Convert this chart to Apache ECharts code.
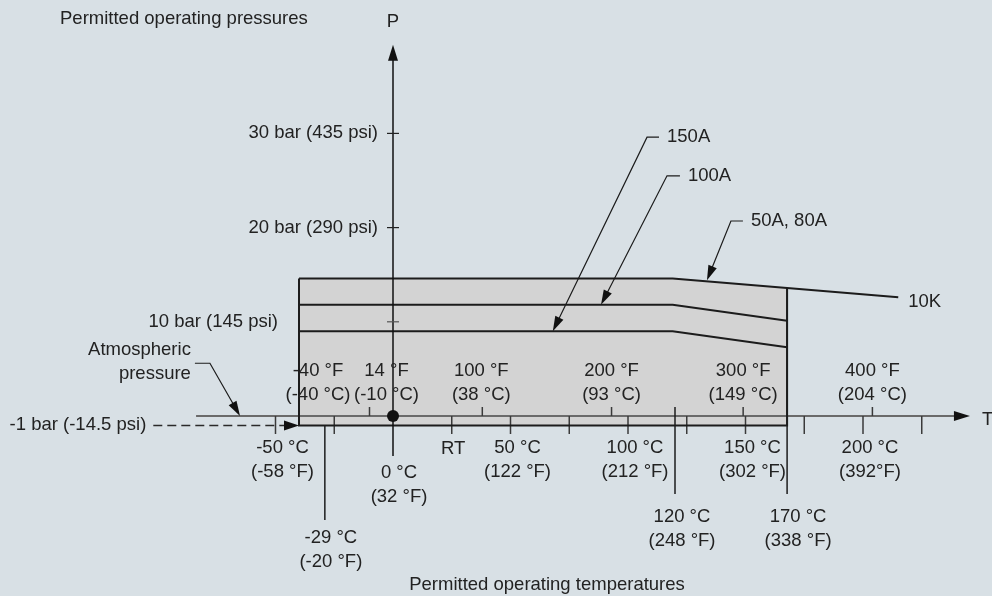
<!DOCTYPE html>
<html><head><meta charset="utf-8">
<script src="https://cdn.jsdelivr.net/npm/echarts@6/dist/echarts.min.js"></script>
<style>html,body{margin:0;padding:0;background:#d8e0e5}#c{width:992px;height:596px}</style>
</head><body><div id="c"></div>
<script>
// ---------- data ----------
const celsiusTicks = [-50, -25, 25, 50, 75, 100, 125, 150, 175, 200, 225];
const celsiusLabelTemps = [-50, 50, 100, 150, 200];
const celsiusLabels = ['-50 °C\n(-58 °F)', '50 °C\n(122 °F)', '100 °C\n(212 °F)', '150 °C\n(302 °F)', '200 °C\n(392°F)'];
const roomTemp = [25];
const roomTempLabel = ['RT'];
const zeroTemp = [0];
const zeroLabel = ['0 °C\n(32 °F)'];
const fahrenheitTemps = [-40, -10, 38, 93, 149, 204];
const fahrenheitLabels = ['-40 °F\n(-40 °C)', '14 °F\n(-10 °C)', '100 °F\n(38 °C)', '200 °F\n(93 °C)', '300 °F\n(149 °C)', '400 °F\n(204 °C)'];
const pressureTicks = [10, 20, 30];
const pressureLabels = ['10 bar (145 psi)', '20 bar (290 psi)', '30 bar (435 psi)'];
const limitTemps = [-29, 120, 167.7];
const limitLabels = ['-29 °C\n(-20 °F)', '120 °C\n(248 °F)', '170 °C\n(338 °F)'];
const curve10K = [[-40, 14.6], [119, 14.6], [167.7, 13.6], [215, 12.6]];
const curve100A = [[-40, 11.8], [119, 11.8], [167.7, 10.1]];
const curve150A = [[-40, 9.0], [119, 9.0], [167.7, 7.3]];
const curveNames = ['150A', '100A', '50A, 80A', '10K'];
const minTemp = -40, maxTemp = 167.7, vacuumPressure = -1, atmPressure = 0;
const pressureAxisRange = [-4.25, 39.4];
const tempAxisRange = [-83.8, 245.5];
const vacuumLineStart = -102;
// leader annotations (data coordinates): tip, elbow, end
const leaders = [
  {text: curveNames[0], pts: [[68, 9.0], [108.1, 29.6], [113.2, 29.6]]},
  {text: curveNames[1], pts: [[88.5, 11.8], [116.6, 25.5], [122.1, 25.5]]},
  {text: curveNames[2], pts: [[133.6, 14.4], [143.8, 20.7], [148.9, 20.7]]}
];
const atmLeader = [[-65.1, 0], [-77.9, 5.6], [-84.3, 5.6]];

// ---------- styles ----------
const FAMILY = '"Liberation Sans", Arial, sans-serif';
const FONT = '18.5px ' + FAMILY;
const INK = '#222';
const LINE = '#1c1c1c';
function txt(x, y, text, align, vAlign) {
  return {type: 'text', x: x, y: y, style: {text: text, fill: INK, font: FONT, align: align || 'center', verticalAlign: vAlign || 'middle', lineHeight: 24}};
}
function seg(p1, p2, stroke, w, dash) {
  return {type: 'line', shape: {x1: p1[0], y1: p1[1], x2: p2[0], y2: p2[1]}, style: {stroke: stroke, lineWidth: w, lineDash: dash || null}};
}
function poly(points, stroke, w) {
  return {type: 'polyline', shape: {points: points}, style: {stroke: stroke, lineWidth: w, fill: null, lineJoin: 'miter'}};
}
function arrowHead(tip, from, len, half, fill) {
  const dx = tip[0] - from[0], dy = tip[1] - from[1];
  const d = Math.hypot(dx, dy), ux = dx / d, uy = dy / d;
  const bx = tip[0] - ux * len, by = tip[1] - uy * len;
  return {type: 'polygon', shape: {points: [tip, [bx - uy * half, by + ux * half], [bx + uy * half, by - ux * half]]}, style: {fill: fill || '#111'}};
}
function base(ptA, ptB, len) { // point len px back from B toward A
  const dx = ptB[0] - ptA[0], dy = ptB[1] - ptA[1], d = Math.hypot(dx, dy);
  return [ptB[0] - dx / d * len, ptB[1] - dy / d * len];
}

function custom(name, data, render, z) {
  return {name: name, type: 'custom', coordinateSystem: 'cartesian2d', data: data, silent: true, z: z || 2,
    renderItem: render};
}

const boxPolygon = [[minTemp, vacuumPressure]].concat(curve10K.slice(0, 3)).concat([[maxTemp, vacuumPressure]]);

const series = [
  // permitted area
  custom('area', [[0, 0]], function (p, api) {
    return {type: 'polygon', shape: {points: boxPolygon.map(function (q) { return api.coord(q); })}, style: {fill: '#d3d3d3'}};
  }, 1),
  // atmospheric T axis
  custom('Taxis', [[0, 0]], function (p, api) {
    const a = api.coord([tempAxisRange[0], atmPressure]), b = api.coord([tempAxisRange[1], atmPressure]);
    return {type: 'group', children: [seg(a, base(a, b, 12), '#6a6a6a', 2), arrowHead(b, a, 16, 5)]};
  }, 3),
  // celsius ticks
  custom('cticks', celsiusTicks.map(function (t) { return [t, atmPressure]; }), function (p, api) {
    const c = api.coord([api.value(0), api.value(1)]);
    return seg([c[0], c[1]], [c[0], c[1] + 18], '#3a3a3a', 1.5);
  }, 3),
  // fahrenheit ticks
  custom('fticks', fahrenheitTemps.map(function (t) { return [t, atmPressure]; }), function (p, api) {
    const c = api.coord([api.value(0), api.value(1)]);
    return seg([c[0], c[1] - 9], [c[0], c[1]], '#3a3a3a', 1.5);
  }, 3),
  // vacuum dashed line
  custom('vacuum', [[0, 0]], function (p, api) {
    const a = api.coord([vacuumLineStart, vacuumPressure]), b = api.coord([minTemp, vacuumPressure]);
    return {type: 'group', children: [seg(a, base(a, b, 10), '#2a2a2a', 1.5, [9, 5]), arrowHead(b, a, 15, 5)]};
  }, 3),
  // limit temperature lines
  custom('limits', limitTemps.map(function (t) { return [t, 0]; }), function (p, api) {
    const t = api.value(0);
    const top = [api.coord([t, vacuumPressure])[1], api.coord([t, atmPressure])[1] - 9, api.coord([t, curve10K[2][1]])[1]][p.dataIndex];
    const bottom = api.coord([t, atmPressure])[1] + [104, 78, 78][p.dataIndex];
    const x = api.coord([t, 0])[0];
    return seg([x, top], [x, bottom], LINE, 1.5);
  }, 4),
  // box outline
  custom('box', [[0, 0]], function (p, api) {
    const pts = [[minTemp, curve10K[0][1]], [minTemp, vacuumPressure], [maxTemp, vacuumPressure], [maxTemp, curve10K[2][1]]];
    return poly(pts.map(function (q) { return api.coord(q); }), LINE, 2);
  }, 5),
  // pressure curves
  custom('curves', [[0, 0], [1, 0], [2, 0]], function (p, api) {
    const c = [curve10K, curve100A, curve150A][p.dataIndex];
    return poly(c.map(function (q) { return api.coord(q); }), LINE, 2);
  }, 5),
  // P axis
  custom('Paxis', [[0, 0]], function (p, api) {
    const a = api.coord([0, pressureAxisRange[0]]), b = api.coord([0, pressureAxisRange[1]]);
    return {type: 'group', children: [seg(a, base(a, b, 12), '#111', 1.5), arrowHead(b, a, 16, 5)]};
  }, 6),
  // P ticks
  custom('pticks', pressureTicks.map(function (v) { return [0, v]; }), function (p, api) {
    const c = api.coord([0, api.value(1)]);
    return seg([c[0] - 6, c[1]], [c[0] + 6, c[1]], p.dataIndex === 0 ? '#555' : '#222', 1.2);
  }, 6),
  // origin dot
  custom('dot', [[0, atmPressure]], function (p, api) {
    const c = api.coord([api.value(0), api.value(1)]);
    return {type: 'circle', shape: {cx: c[0], cy: c[1], r: 6}, style: {fill: '#111'}};
  }, 7),
  // leaders
  custom('leaders', leaders.map(function (l, i) { return [i, 0]; }), function (p, api) {
    const l = leaders[p.dataIndex];
    const px = l.pts.map(function (q) { return api.coord(q); });
    const tip = px[0], el = px[1], end = px[2];
    return {type: 'group', children: [
      poly([base(el, tip, 12), el, end], LINE, 1.2),
      arrowHead(tip, el, 15, 4.5),
      txt(end[0] + 8, end[1], l.text, 'left')
    ]};
  }, 7),
  custom('atmLeader', [[0, 0]], function (p, api) {
    const px = atmLeader.map(function (q) { return api.coord(q); });
    const tip = px[0], el = px[1], st = px[2];
    return {type: 'group', children: [
      poly([st, el, base(el, tip, 12)], LINE, 1.2),
      arrowHead(tip, el, 15, 4.5),
      txt(st[0] - 4, st[1] - 1, 'Atmospheric\npressure', 'right')
    ]};
  }, 7),
  // F labels
  custom('flabels', fahrenheitTemps.map(function (t) { return [t, atmPressure]; }), function (p, api) {
    const c = api.coord([api.value(0), api.value(1)]);
    const dx = [19, 17, -1, 0, 0, 0][p.dataIndex];
    return txt(c[0] + dx, c[1] - 57, fahrenheitLabels[p.dataIndex], 'center', 'top');
  }, 8),
  // C labels
  custom('clabels', celsiusLabelTemps.map(function (t) { return [t, atmPressure]; }), function (p, api) {
    const c = api.coord([api.value(0), api.value(1)]);
    return txt(c[0] + 7, c[1] + 20, celsiusLabels[p.dataIndex], 'center', 'top');
  }, 8),
  custom('rt', roomTemp.map(function (t) { return [t, atmPressure]; }), function (p, api) {
    const c = api.coord([api.value(0), api.value(1)]);
    return txt(c[0] + 1.5, c[1] + 21, roomTempLabel[p.dataIndex], 'center', 'top');
  }, 8),
  custom('zero', zeroTemp.map(function (t) { return [t, atmPressure]; }), function (p, api) {
    const c = api.coord([api.value(0), api.value(1)]);
    return txt(c[0] + 6, c[1] + 45, zeroLabel[p.dataIndex], 'center', 'top');
  }, 8),
  custom('limitLabels', limitTemps.map(function (t) { return [t, atmPressure]; }), function (p, api) {
    const c = api.coord([api.value(0), api.value(1)]);
    const dx = [6, 7, 11][p.dataIndex], dy = [110, 89, 89][p.dataIndex];
    return txt(c[0] + dx, c[1] + dy, limitLabels[p.dataIndex], 'center', 'top');
  }, 8),
  // P labels
  custom('plabels', pressureTicks.map(function (v) { return [0, v]; }), function (p, api) {
    const c = api.coord([0, api.value(1)]);
    const dx = [-115, -15, -15][p.dataIndex];
    return txt(c[0] + dx, c[1], pressureLabels[p.dataIndex], 'right');
  }, 8),
  custom('vlabel', [[vacuumLineStart, vacuumPressure]], function (p, api) {
    const c = api.coord([api.value(0), api.value(1)]);
    return txt(c[0] - 7, c[1] - 1, '-1 bar (-14.5 psi)', 'right');
  }, 8),
  // axis names
  custom('names', [[0, pressureAxisRange[1]], [tempAxisRange[1], atmPressure]], function (p, api) {
    const c = api.coord([api.value(0), api.value(1)]);
    return p.dataIndex === 0 ? txt(c[0], c[1] - 23, 'P', 'center') : txt(c[0] + 12, c[1] + 4, 'T', 'left');
  }, 8),
  // 10K end label
  custom('k10', [curve10K[3]], function (p, api) {
    const c = api.coord([api.value(0), api.value(1)]);
    return txt(c[0] + 10, c[1] + 5, curveNames[3], 'left');
  }, 8)
];

const chart = echarts.init(document.getElementById('c'));
chart.setOption({
  backgroundColor: '#d8e0e5',
  animation: false,
  title: [
    {text: 'Permitted operating pressures', left: 55, top: 4, textStyle: {fontFamily: FAMILY, fontSize: 18.5, fontWeight: 'normal', color: INK}},
    {text: 'Permitted operating temperatures', left: 542, top: 570, textAlign: 'center', textStyle: {fontFamily: FAMILY, fontSize: 18.5, fontWeight: 'normal', color: INK}}
  ],
  grid: {left: 17, right: 35, top: 39.2, bottom: 132.9},
  xAxis: {type: 'value', min: -160, max: 240, show: false},
  yAxis: {type: 'value', min: -5, max: 40, show: false},
  series: series
});
</script></body></html>
